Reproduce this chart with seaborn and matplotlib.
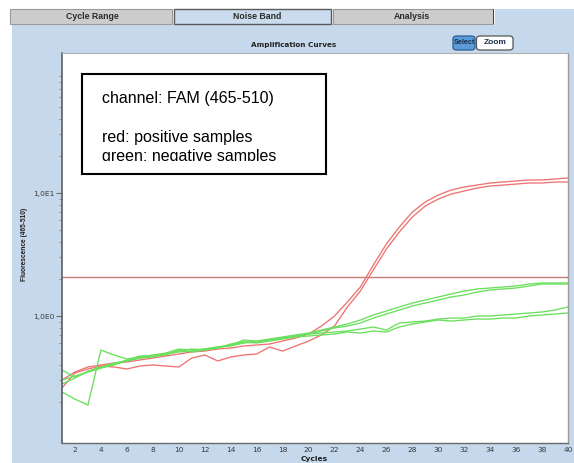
import numpy as np
import pandas as pd
import matplotlib
matplotlib.use("Agg")
import matplotlib.pyplot as plt
import seaborn as sns
from matplotlib.patches import Rectangle, FancyBboxPatch
from matplotlib.transforms import Bbox, TransformedBbox
from matplotlib.ticker import LogLocator, NullFormatter, FixedLocator

# ---------------- data ----------------
cycles = list(range(1, 41))

red_1 = [0.302, 0.351, 0.385, 0.400, 0.415, 0.423, 0.439, 0.455, 0.473, 0.491,
         0.510, 0.519, 0.539, 0.549, 0.570, 0.581, 0.592, 0.626, 0.662, 0.714,
         0.829, 1.000, 1.300, 1.721, 2.60, 3.85, 5.29, 7.00, 8.45, 9.63,
         10.58, 11.19, 11.61, 12.06, 12.29, 12.52, 12.76, 12.76, 13.00, 13.25]
red_2 = [0.260, 0.344, 0.371, 0.392, 0.385, 0.371, 0.392, 0.400, 0.392, 0.385,
         0.455, 0.482, 0.431, 0.464, 0.482, 0.491, 0.560, 0.519, 0.570, 0.626,
         0.701, 0.829, 1.184, 1.597, 2.37, 3.50, 4.82, 6.37, 7.84, 8.93,
         9.81, 10.38, 10.98, 11.40, 11.61, 11.83, 12.06, 12.06, 12.29, 12.29]
green_1 = [0.241, 0.211, 0.189, 0.529, 0.482, 0.447, 0.464, 0.482, 0.500, 0.539,
           0.529, 0.539, 0.560, 0.581, 0.638, 0.626, 0.650, 0.675, 0.701, 0.727,
           0.769, 0.814, 0.861, 0.928, 1.019, 1.098, 1.184, 1.276, 1.349, 1.427,
           1.510, 1.597, 1.658, 1.689, 1.721, 1.754, 1.820, 1.855, 1.855, 1.855]
green_2 = [0.364, 0.319, 0.351, 0.378, 0.407, 0.439, 0.473, 0.473, 0.491, 0.519,
           0.539, 0.529, 0.549, 0.592, 0.615, 0.615, 0.638, 0.662, 0.688, 0.714,
           0.755, 0.799, 0.829, 0.877, 0.963, 1.038, 1.119, 1.206, 1.276, 1.349,
           1.427, 1.482, 1.567, 1.627, 1.658, 1.689, 1.754, 1.820, 1.820, 1.820]
green_3 = [0.302, 0.325, 0.351, 0.378, 0.400, 0.431, 0.455, 0.464, 0.491, 0.510,
           0.519, 0.539, 0.560, 0.570, 0.603, 0.615, 0.638, 0.662, 0.688, 0.714,
           0.727, 0.741, 0.755, 0.784, 0.814, 0.769, 0.877, 0.894, 0.910, 0.945,
           0.963, 0.963, 1.000, 1.000, 1.019, 1.038, 1.058, 1.078, 1.119, 1.184]
green_4 = [0.280, 0.313, 0.357, 0.385, 0.415, 0.431, 0.455, 0.473, 0.482, 0.529,
           0.510, 0.529, 0.549, 0.581, 0.615, 0.603, 0.626, 0.650, 0.675, 0.688,
           0.701, 0.714, 0.741, 0.727, 0.755, 0.741, 0.814, 0.861, 0.894, 0.928,
           0.910, 0.928, 0.945, 0.945, 0.963, 0.963, 1.000, 1.019, 1.038, 1.058]

threshold = 2.08
x_ticks = list(range(2, 41, 2))
y_ticks = [1, 10]
y_tick_labels = ["1,0E0", "1,0E1"]
tab_labels = ["Cycle Range", "Noise Band", "Analysis"]

series = {"red 1": red_1, "red 2": red_2,
          "green 1": green_1, "green 2": green_2,
          "green 3": green_3, "green 4": green_4}
RED = "#ef7272"
GREEN = "#6adf5c"
palette = {k: (RED if k.startswith("red") else GREEN) for k in series}

df = pd.concat([pd.DataFrame({"Cycle": cycles, "Fluorescence": v, "Sample": k})
                for k, v in series.items()], ignore_index=True)

# ---------------- figure ----------------
sns.set_theme(style="white")
plt.rcParams["font.family"] = ["DejaVu Sans"]

W, H = 574, 463
fig = plt.figure(figsize=(W / 100, H / 100), dpi=100)
fig.patch.set_facecolor("white")


def prect(x0, y0, x1, y1, **kw):
    r = Rectangle((x0 / W, 1 - y1 / H), (x1 - x0) / W, (y1 - y0) / H,
                  transform=fig.transFigure, **kw)
    fig.patches.append(r)
    return r


BLUE = "#c6d9ec"
prect(12, 24, 574, 463, fc=BLUE, ec="none", zorder=-5)
prect(495, 9, 574, 24, fc=BLUE, ec="none", zorder=-5)
# tabs
prect(10, 9, 172, 24, fc="#cccccc", ec="#9a9a9a", lw=0.8, zorder=-4)
prect(174, 9, 331, 24, fc="#cadcee", ec="#5a5a5a", lw=1.0, zorder=-4)
prect(333, 9, 493, 24, fc="#cccccc", ec="#9a9a9a", lw=0.8, zorder=-4)
prect(492.5, 9, 494, 24, fc="#444444", ec="none", zorder=-4)
for lab, cx in zip(tab_labels, [92, 257, 412]):
    fig.text(cx / W, 1 - 16.5 / H, lab, ha="center", va="center", fontsize=6.3,
             weight="bold", color="#2a2a2a", family="Liberation Sans")

fig.text(294 / W, 1 - 44.5 / H, "Amplification Curves", ha="center", va="center",
         fontsize=5.2, weight="bold", color="#222222")

# buttons
for (x0, x1, fc, ec, lab, fs) in [(453, 475, "#5b9bd8", "#2d5d90", "Select", 5.2),
                                  (476.5, 513, "#ffffff", "#555555", "Zoom", 6.0)]:
    b = FancyBboxPatch(((x0) / W, 1 - 50 / H), (x1 - x0) / W, 14 / H,
                       boxstyle="round,pad=0,rounding_size=0.006",
                       transform=fig.transFigure, fc=fc, ec=ec, lw=0.9, zorder=2)
    fig.patches.append(b)
    fig.text((x0 + x1) / 2 / W, 1 - 43 / H, lab, ha="center", va="center",
             fontsize=fs, weight="bold", color="#1b2f4a", family="Liberation Sans", zorder=3)

# ---------------- axes ----------------
ax = fig.add_axes([62 / W, 20 / H, 506 / W, 390 / H])
ax.set_facecolor("white")
ax.set_yscale("log")

sns.lineplot(data=df, x="Cycle", y="Fluorescence", hue="Sample", palette=palette,
             estimator=None, sort=False, legend=False, ax=ax, lw=0.95)
ax.axhline(threshold, color="#c47c78", lw=1.0, zorder=1)

ax.set_xlim(1, 40)
ax.set_ylim(0.0928, 137.5)
ax.set_xticks(x_ticks)
ax.set_xticklabels([str(t) for t in x_ticks])
ax.yaxis.set_major_locator(FixedLocator(y_ticks))
ax.set_yticklabels(y_tick_labels)
ax.yaxis.set_minor_locator(LogLocator(base=10, subs=np.arange(2, 10)))
ax.yaxis.set_minor_formatter(NullFormatter())
ax.set_xlabel("")
ax.set_ylabel("")
ax.tick_params(axis="x", which="major", direction="out", length=1.5, width=0.6,
               color="#7a7a7a", labelsize=5.4, labelcolor="#3a3a3a", pad=1.2)
ax.tick_params(axis="y", which="major", direction="out", length=4, width=0.8,
               color="#6a6a6a", labelsize=5.4, labelcolor="#3a3a3a", pad=1.5, left=True)
ax.tick_params(axis="y", which="minor", direction="out", length=2.5, width=0.6,
               color="#8a8a8a", left=True)
for side, col, lw in [("left", "#5e5e5e", 1.2), ("bottom", "#6a6a6a", 1.0),
                      ("right", "#9a9a9a", 1.0), ("top", "#b0b0b0", 0.8)]:
    ax.spines[side].set_color(col)
    ax.spines[side].set_linewidth(lw)
    ax.spines[side].set_visible(True)

fig.text(314 / W, 1 - 459.5 / H, "Cycles", ha="center", va="center", fontsize=5.4,
         weight="bold", color="#1e1e1e")
fig.text(25 / W, 1 - 244 / H, "Fluorescence (465-510)", ha="center", va="center",
         rotation=90, fontsize=4.8, weight="bold", color="#1e1e1e",
         family="Liberation Sans")

# ---------------- annotation box ----------------
prect(82, 73.5, 326, 174, fc="white", ec="black", lw=1.5, zorder=5)
fig.text(102 / W, 1 - 102.7 / H, "channel: FAM (465-510)", fontsize=11.5,
         family="Liberation Sans", va="baseline", ha="left", color="black", zorder=6)
fig.text(102 / W, 1 - 141.7 / H, "red: positive samples", fontsize=11.5,
         family="Liberation Sans", va="baseline", ha="left", color="black", zorder=6)
t = fig.text(102 / W, 1 - 160.5 / H, "green: negative samples", fontsize=11.5,
             family="Liberation Sans", va="baseline", ha="left", color="black", zorder=6)
t.set_clip_on(True)
t.set_clip_box(TransformedBbox(Bbox.from_extents(0, 1 - 161 / H, 1, 1), fig.transFigure))

fig.savefig("out.png", dpi=100, facecolor=fig.get_facecolor())
